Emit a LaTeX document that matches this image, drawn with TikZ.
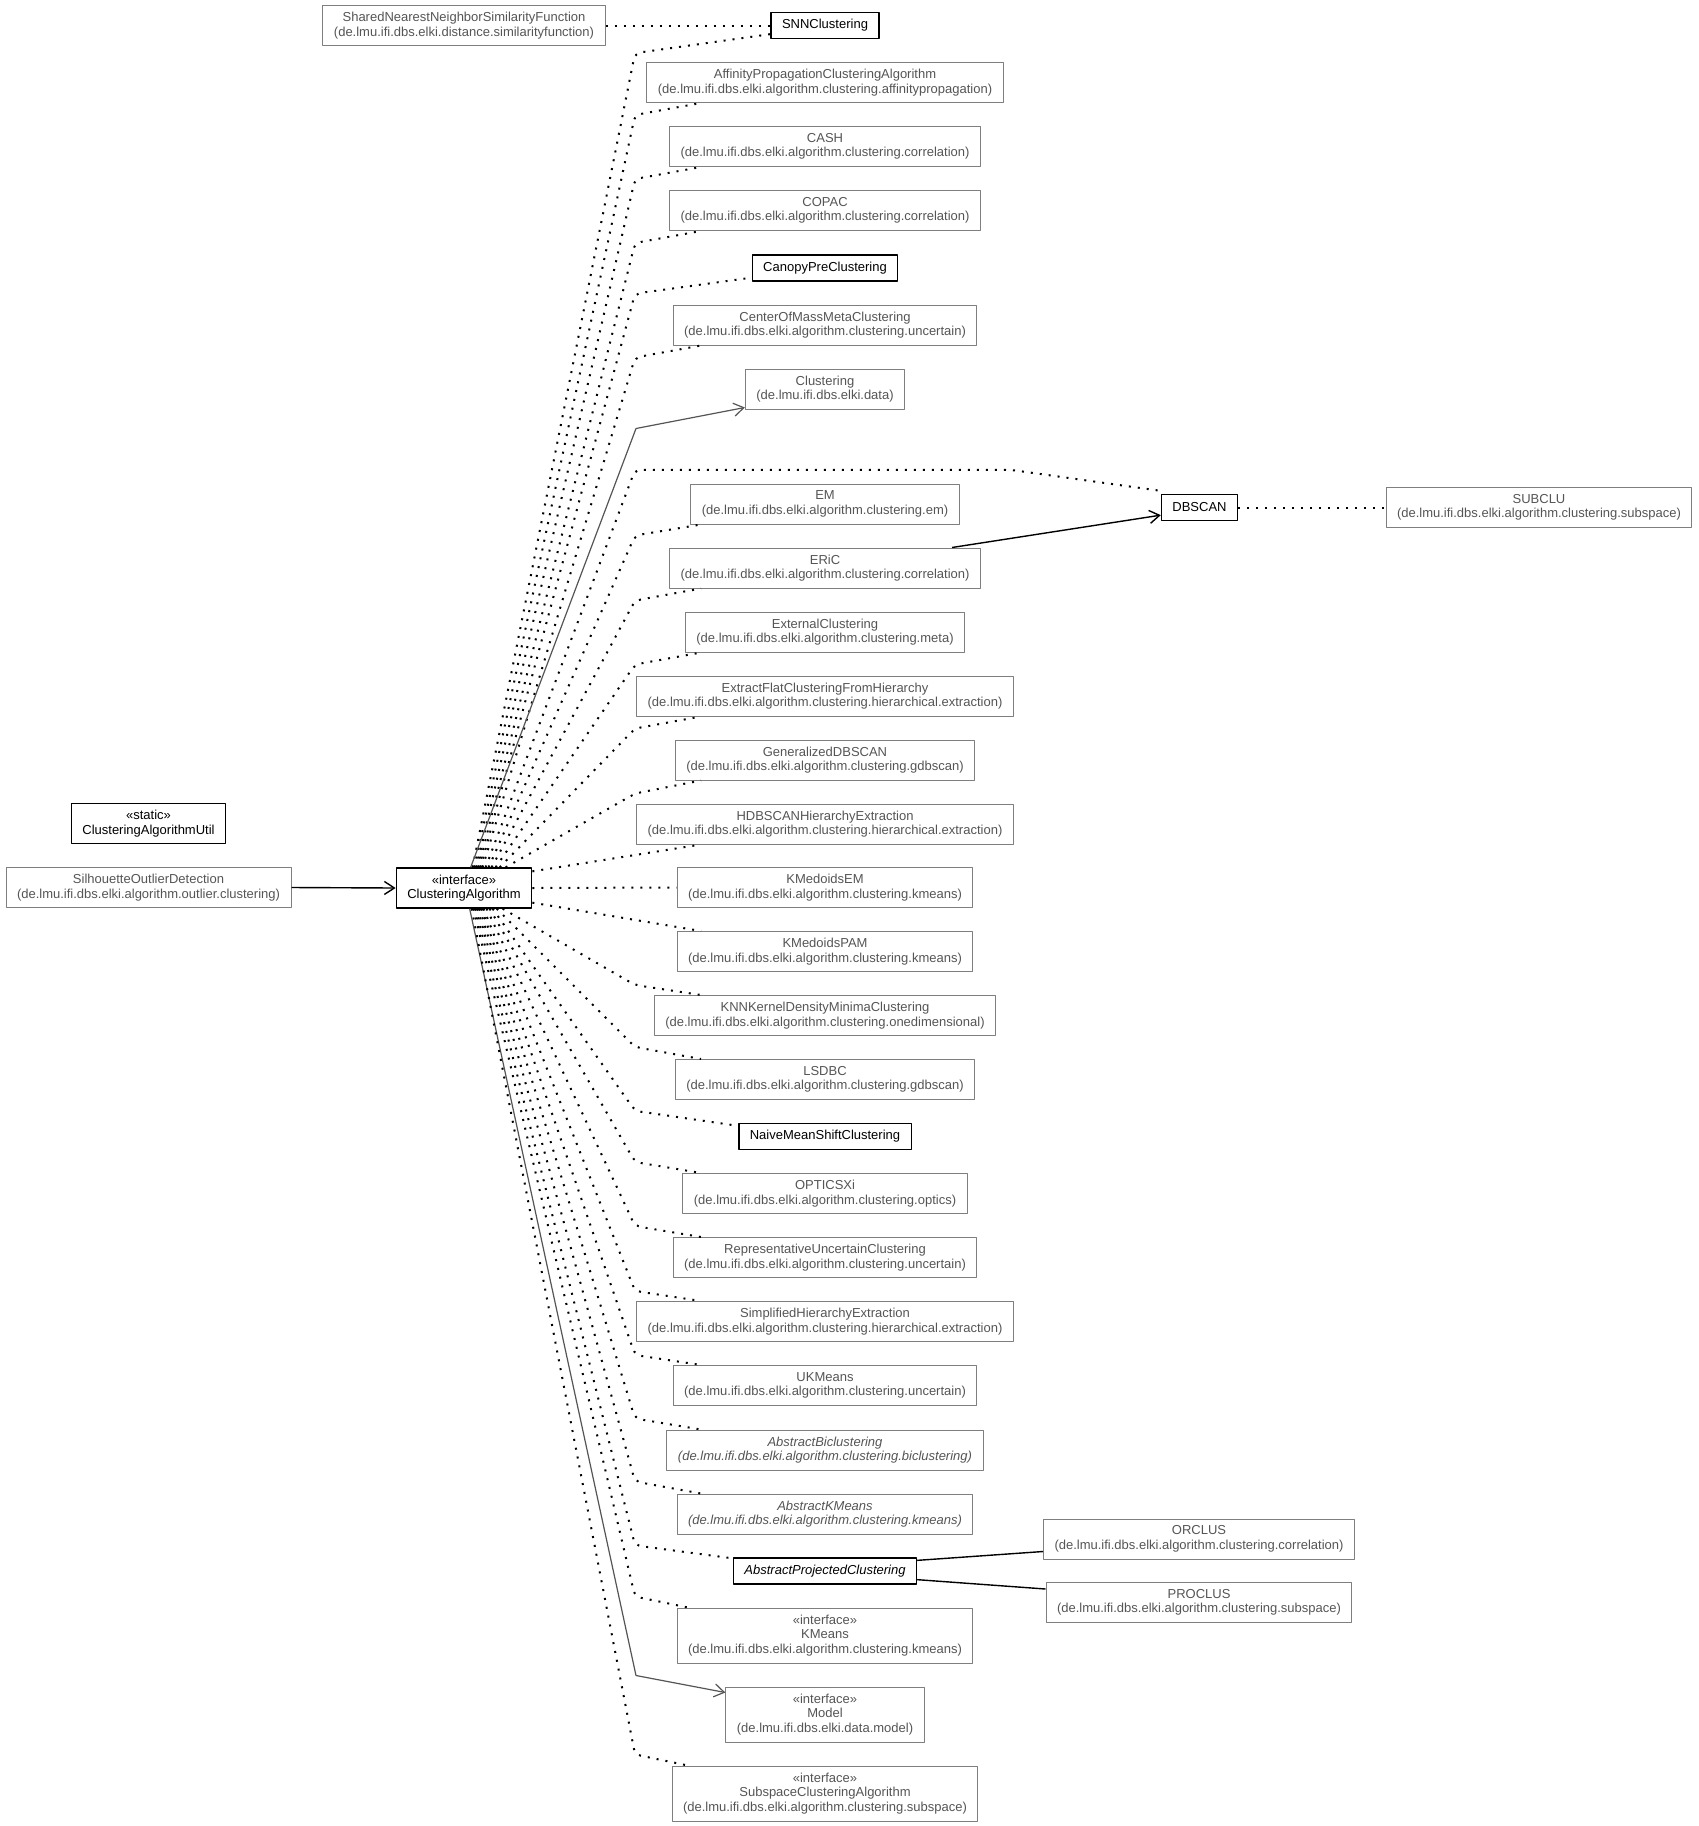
\documentclass[tikz,border=0pt]{standalone}
\usepackage{fontspec}
\setmainfont{Liberation Sans}
\usetikzlibrary{arrows.meta,calc}

\definecolor{boxgray}{HTML}{7F7F7F}
\definecolor{textgray}{HTML}{555555}
\definecolor{edgegray}{HTML}{555555}
\newcommand{\elkipkg}[1]{(de.lmu.ifi.dbs.elki.#1)}

\begin{document}
\begin{tikzpicture}[x=1pt, y=-1pt, line join=round,
	umlbox/.style={fill=white, align=center, font=\fontsize{13}{14.5}\selectfont, inner xsep=11pt, inner ysep=0pt},
	extcls/.style={umlbox, draw=boxgray, text=textgray, line width=1pt},
	owncls/.style={umlbox, draw=black, text=black, line width=1.3pt},
	one/.style={minimum height=26pt},
	two/.style={minimum height=40pt},
	three/.style={minimum height=55pt},
	dep/.style={draw=black, line width=2pt, dash pattern=on 2pt off 7pt, rounded corners=6pt},
	assoc/.style={draw=edgegray, line width=1.2pt, -{Straight Barb[length=10pt,width=13pt]}},
	navig/.style={draw=black, line width=1.4pt, -{Straight Barb[length=10pt,width=13pt]}},
	link/.style={draw=black, line width=1.4pt}]
	
	% --- canvas ---
	\fill[white] (0,0) rectangle (1699,1826);
	\useasboundingbox (0,0) rectangle (1699,1826);
	
	% columns used by the fan of edges
	\coordinate (bendx) at (635,0);
	\coordinate (endx) at (701,0);
	\coordinate (endxx) at (688,0);
	
	% --- Left side ---
	\node[extcls, two] (snnsim) at (464,25.5) {SharedNearestNeighborSimilarityFunction\\\elkipkg{distance.similarityfunction}};
	\node[owncls, two] (util) at (148.5,823.5) {«static»\\ClusteringAlgorithmUtil};
	\node[extcls, two] (silhouette) at (148.5,887.5) {SilhouetteOutlierDetection\\\elkipkg{algorithm.outlier.clustering}};
	\node[owncls, two] (hub) at (464,888) {«interface»\\ClusteringAlgorithm};
	
	% --- Right column ---
	\node[owncls, one] (snn) at (825,25.5) {SNNClustering};
	\node[extcls, two] (affinity) at (825,82.5) {AffinityPropagationClusteringAlgorithm\\\elkipkg{algorithm.clustering.affinitypropagation}};
	\node[extcls, two] (cash) at (825,146.5) {CASH\\\elkipkg{algorithm.clustering.correlation}};
	\node[extcls, two] (copac) at (825,210.5) {COPAC\\\elkipkg{algorithm.clustering.correlation}};
	\node[owncls, one] (canopy) at (825,268) {CanopyPreClustering};
	\node[extcls, two] (centerofmass) at (825,325) {CenterOfMassMetaClustering\\\elkipkg{algorithm.clustering.uncertain}};
	\node[extcls, two] (clustering) at (825,389) {Clustering\\\elkipkg{data}};
	\node[extcls, two] (em) at (825,504) {EM\\\elkipkg{algorithm.clustering.em}};
	\node[extcls, two] (eric) at (825,568) {ERiC\\\elkipkg{algorithm.clustering.correlation}};
	\node[extcls, two] (external) at (825,632) {ExternalClustering\\\elkipkg{algorithm.clustering.meta}};
	\node[extcls, two] (extractflat) at (825,696) {ExtractFlatClusteringFromHierarchy\\\elkipkg{algorithm.clustering.hierarchical.extraction}};
	\node[extcls, two] (gdbscan) at (825,760) {GeneralizedDBSCAN\\\elkipkg{algorithm.clustering.gdbscan}};
	\node[extcls, two] (hdbscan) at (825,824) {HDBSCANHierarchyExtraction\\\elkipkg{algorithm.clustering.hierarchical.extraction}};
	\node[extcls, two] (kmem) at (825,887.5) {KMedoidsEM\\\elkipkg{algorithm.clustering.kmeans}};
	\node[extcls, two] (kmpam) at (825,951.5) {KMedoidsPAM\\\elkipkg{algorithm.clustering.kmeans}};
	\node[extcls, two] (knnkernel) at (825,1015.5) {KNNKernelDensityMinimaClustering\\\elkipkg{algorithm.clustering.onedimensional}};
	\node[extcls, two] (lsdbc) at (825,1079.5) {LSDBC\\\elkipkg{algorithm.clustering.gdbscan}};
	\node[owncls, one] (naive) at (825,1136.5) {NaiveMeanShiftClustering};
	\node[extcls, two] (opticsxi) at (825,1193.5) {OPTICSXi\\\elkipkg{algorithm.clustering.optics}};
	\node[extcls, two] (repr) at (825,1257.5) {RepresentativeUncertainClustering\\\elkipkg{algorithm.clustering.uncertain}};
	\node[extcls, two] (simplified) at (825,1321.5) {SimplifiedHierarchyExtraction\\\elkipkg{algorithm.clustering.hierarchical.extraction}};
	\node[extcls, two] (ukmeans) at (825,1385.5) {UKMeans\\\elkipkg{algorithm.clustering.uncertain}};
	\node[extcls, two, font=\fontsize{13}{14.5}\selectfont\itshape] (abicl) at (825,1450) {AbstractBiclustering\\\elkipkg{algorithm.clustering.biclustering}};
	\node[extcls, two, font=\fontsize{13}{14.5}\selectfont\itshape] (akmeans) at (825,1514) {AbstractKMeans\\\elkipkg{algorithm.clustering.kmeans}};
	\node[owncls, one, font=\fontsize{13}{14.5}\selectfont\itshape] (aproj) at (825,1571) {AbstractProjectedClustering};
	\node[extcls, three] (kmeans) at (825,1635.5) {«interface»\\KMeans\\\elkipkg{algorithm.clustering.kmeans}};
	\node[extcls, three] (model) at (825,1714.5) {«interface»\\Model\\\elkipkg{data.model}};
	\node[extcls, three] (subspace) at (825,1793.5) {«interface»\\SubspaceClusteringAlgorithm\\\elkipkg{algorithm.clustering.subspace}};
	
	% --- Far right ---
	\node[owncls, one] (dbscan) at (1199.5,507.5) {DBSCAN};
	\node[extcls, two] (subclu) at (1539,507.5) {SUBCLU\\\elkipkg{algorithm.clustering.subspace}};
	\node[extcls, two] (orclus) at (1199,1539) {ORCLUS\\\elkipkg{algorithm.clustering.correlation}};
	\node[extcls, two] (proclus) at (1199,1602.5) {PROCLUS\\\elkipkg{algorithm.clustering.subspace}};
	
	% --- Fan above the interface ---
	\draw[dep] ([xshift=77pt]hub.north west) -- ($(bendx |- snn.south)+(0,14)$) -- ([yshift=5pt]snn.south west);
	\draw[dep] ([xshift=79pt]hub.north west) -- ($(bendx |- affinity.south)+(0,12)$) -- (endx |- affinity.south);
	\draw[dep] ([xshift=81pt]hub.north west) -- ($(bendx |- cash.south)+(0,12)$) -- (endx |- cash.south);
	\draw[dep] ([xshift=83pt]hub.north west) -- ($(bendx |- copac.south)+(0,12)$) -- (endx |- copac.south);
	\draw[dep] ([xshift=85pt]hub.north west) -- ($(bendx |- canopy.south)+(0,12)$) -- ([yshift=4pt]canopy.south west);
	\draw[dep] ([xshift=87pt]hub.north west) -- ($(bendx |- centerofmass.south)+(0,12)$) -- (endx |- centerofmass.south);
	\draw[assoc] ([xshift=75pt]hub.north west) -- ($(bendx |- clustering.south)+(1,19)$) -- ([yshift=2pt]clustering.south west);
	\draw[dep] ([xshift=90pt]hub.north west) -- ($(bendx |- dbscan.north)+(0,-24)$) -- ($(dbscan.north west)+(-150,-24)$) -- ([yshift=3pt]dbscan.north west);
	\draw[dep] ([xshift=93pt]hub.north west) -- ($(bendx |- em.south)+(0,11)$) -- (endx |- em.south);
	\draw[dep] ([xshift=96pt]hub.north west) -- ($(bendx |- eric.south)+(0,12)$) -- (endx |- eric.south);
	\draw[dep] ([xshift=100pt]hub.north west) -- ($(bendx |- external.south)+(0,12)$) -- (endx |- external.south);
	\draw[dep] ([xshift=104pt]hub.north west) -- ($(bendx |- extractflat.south)+(0,12)$) -- (endx |- extractflat.south);
	\draw[dep] ([xshift=110pt]hub.north west) -- ($(bendx |- gdbscan.south)+(0,13)$) -- (endx |- gdbscan.south);
	\draw[dep] ([yshift=-4pt]hub.north east) -- (endx |- hdbscan.south);
	
	% --- Same row ---
	\draw[dep] (hub.east) -- (kmem.west);
	
	% --- Fan below the interface ---
	\draw[dep] ([yshift=6pt]hub.south east) -- (endx |- kmpam.north);
	\draw[dep] ([xshift=107pt]hub.south west) -- ($(bendx |- knnkernel.north)+(0,-10)$) -- (endx |- knnkernel.north);
	\draw[dep] ([xshift=101pt]hub.south west) -- ($(bendx |- lsdbc.north)+(0,-12)$) -- (endx |- lsdbc.north);
	\draw[dep] ([xshift=97pt]hub.south west) -- ($(bendx |- naive.north)+(0,-12)$) -- ([yshift=-3pt]naive.north west);
	\draw[dep] ([xshift=94pt]hub.south west) -- ($(bendx |- opticsxi.north)+(0,-11)$) -- (endx |- opticsxi.north);
	\draw[dep] ([xshift=91pt]hub.south west) -- ($(bendx |- repr.north)+(0,-11)$) -- (endx |- repr.north);
	\draw[dep] ([xshift=88pt]hub.south west) -- ($(bendx |- simplified.north)+(0,-10)$) -- (endx |- simplified.north);
	\draw[dep] ([xshift=86pt]hub.south west) -- ($(bendx |- ukmeans.north)+(0,-10)$) -- (endx |- ukmeans.north);
	\draw[dep] ([xshift=84pt]hub.south west) -- ($(bendx |- abicl.north)+(0,-11)$) -- (endx |- abicl.north);
	\draw[dep] ([xshift=82pt]hub.south west) -- ($(bendx |- akmeans.north)+(0,-12)$) -- (endx |- akmeans.north);
	\draw[dep] ([xshift=80pt]hub.south west) -- ($(bendx |- aproj.north)+(0,-12)$) -- ([yshift=-1pt]aproj.north west);
	\draw[dep] ([xshift=78pt]hub.south west) -- ($(bendx |- kmeans.north)+(0,-11)$) -- (endxx |- kmeans.north);
	\draw[assoc] ([xshift=74pt]hub.south west) -- ($(bendx |- model.north)+(1,-11)$) -- ([yshift=-6pt]model.north west);
	\draw[dep] ([xshift=76pt]hub.south west) -- ($(bendx |- subspace.north)+(0,-11)$) -- (endxx |- subspace.north);
	
	% --- Remaining links ---
	\draw[dep] (snnsim.east) -- (snn.west);
	\draw[dep] (dbscan.east) -- (subclu.west);
	\draw[navig] (silhouette.east) -- (hub.west);
	\draw[navig] ([xshift=-29pt]eric.north east) -- ([yshift=6pt]dbscan.south west);
	\draw[link] ([yshift=-3pt]aproj.north east) -- ([yshift=8pt]orclus.south west);
	\draw[link] ([yshift=5pt]aproj.south east) -- ([yshift=-7pt]proclus.north west);
	
\end{tikzpicture}
\end{document}
